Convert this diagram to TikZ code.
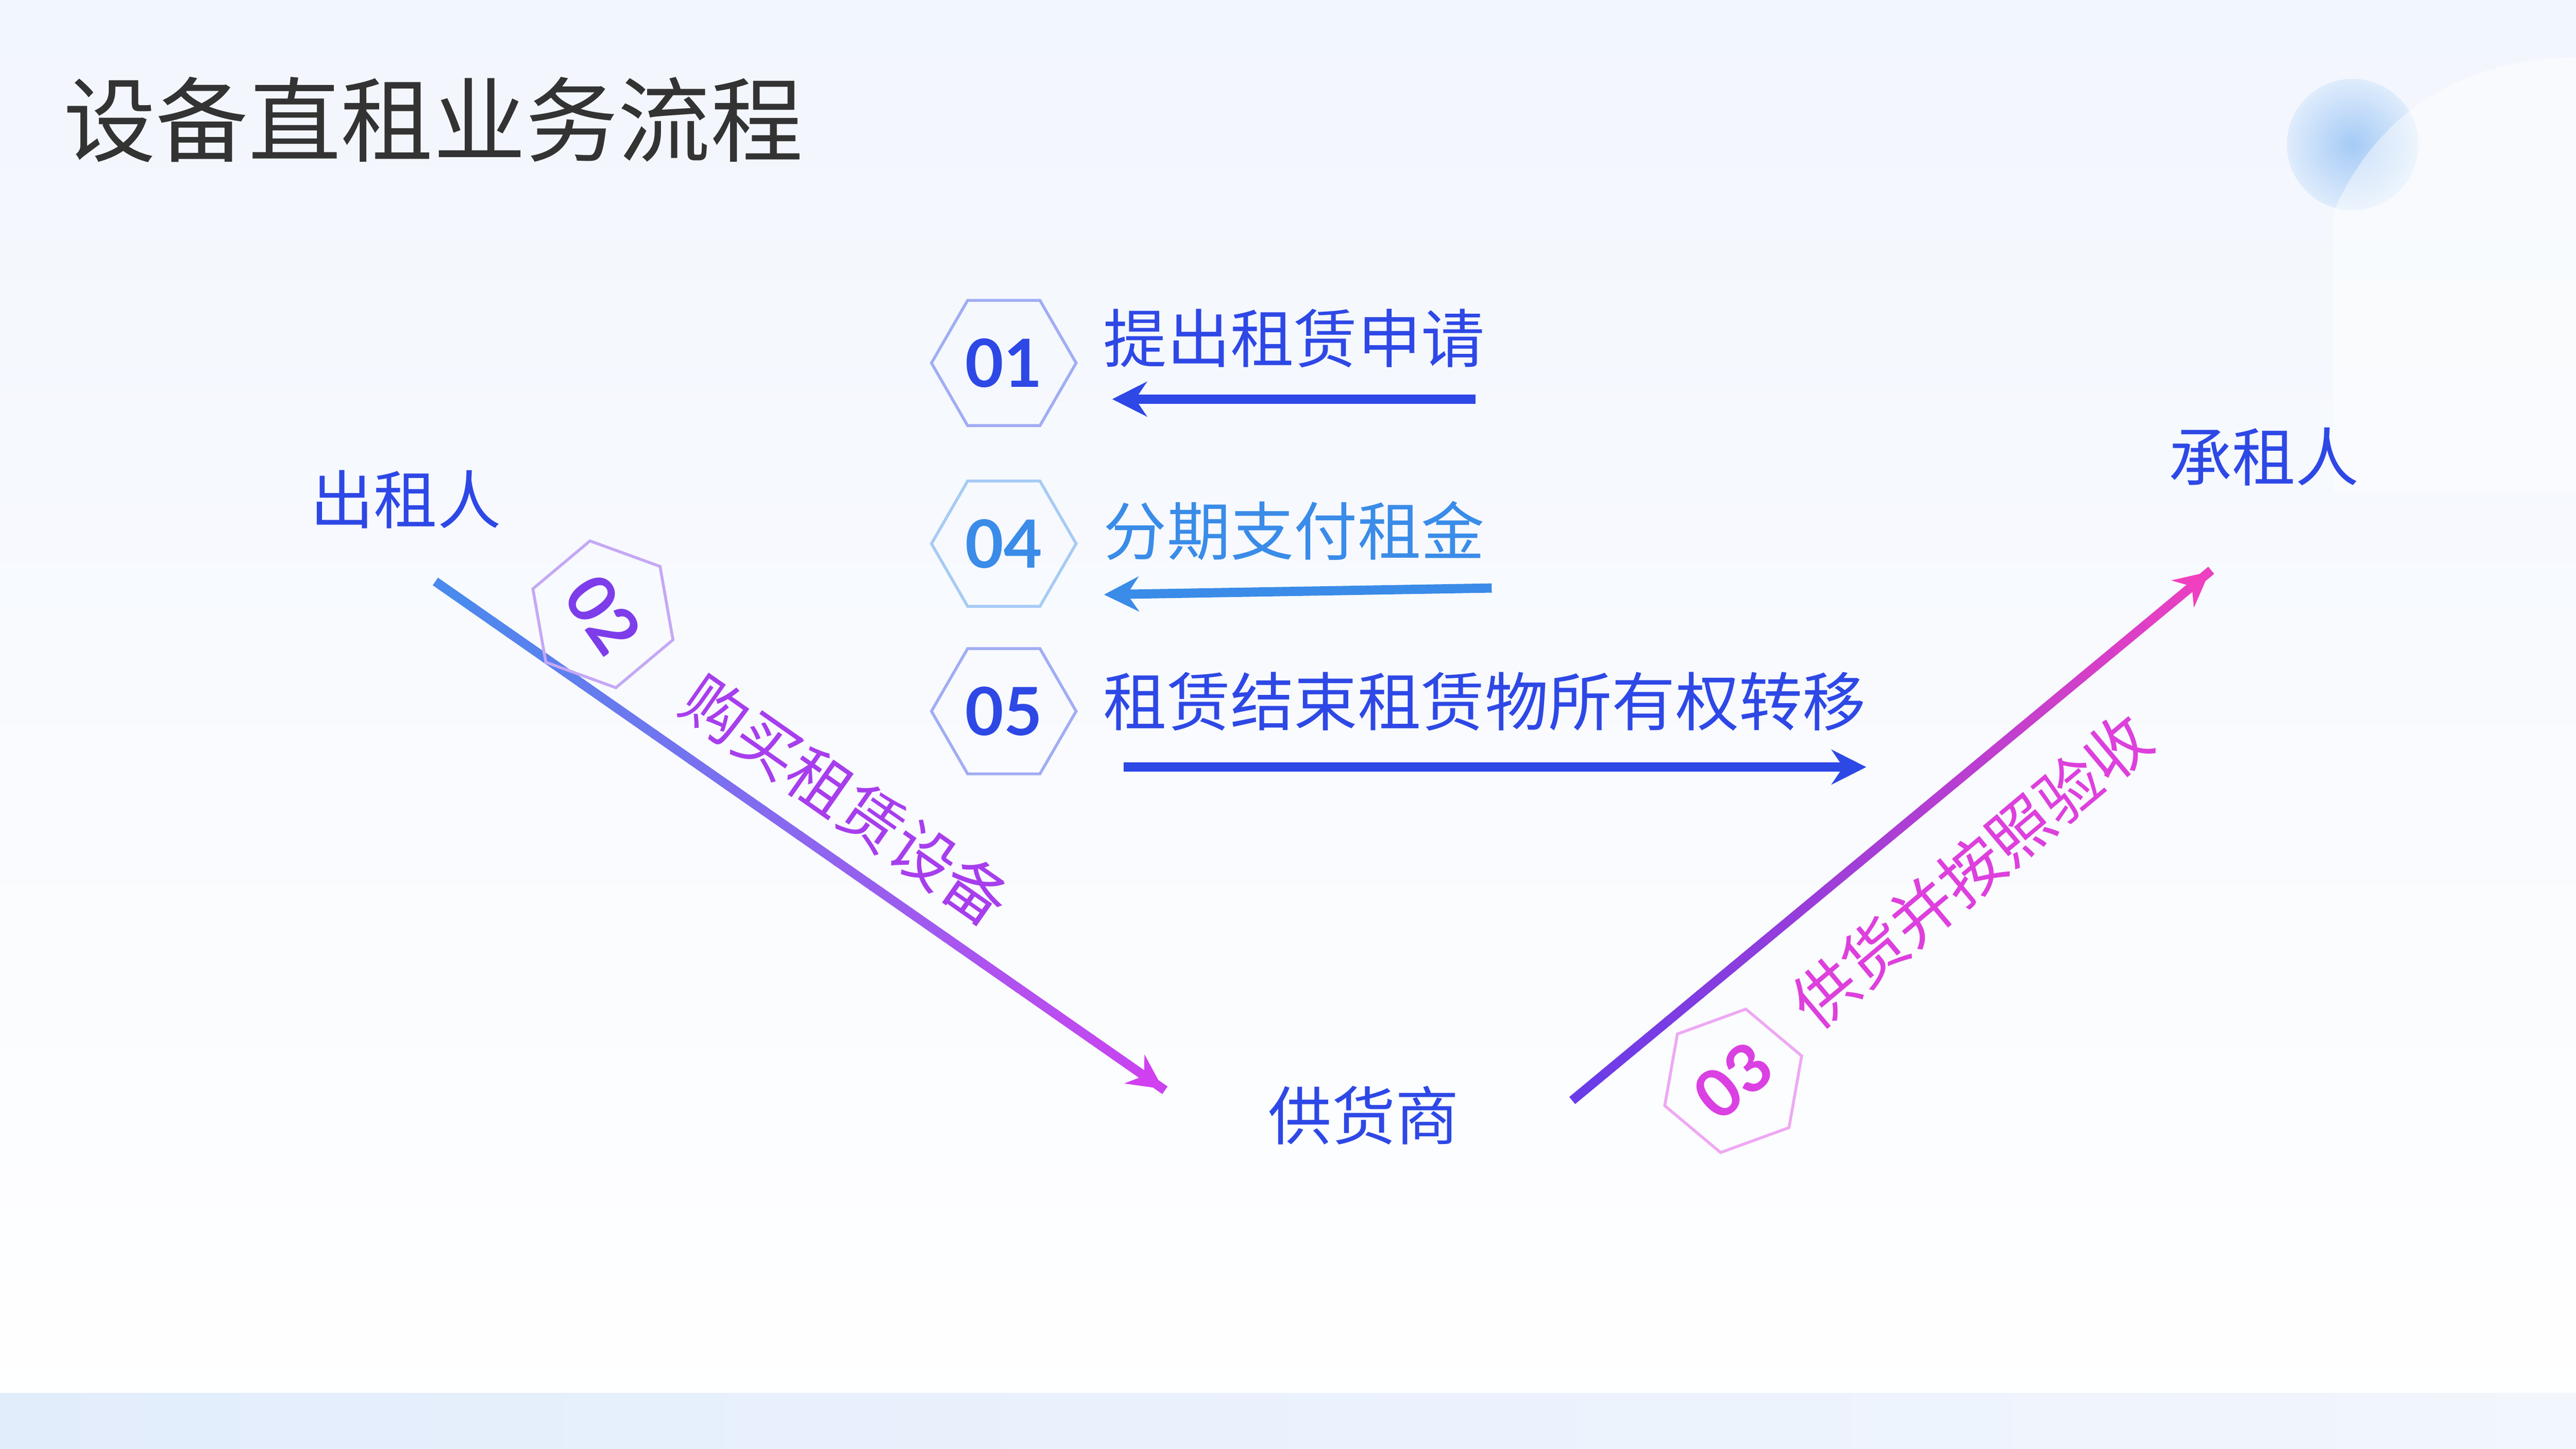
\documentclass[tikz,border=0pt]{standalone}
\usepackage{fontspec}
\setmainfont{Noto Sans CJK SC}
\newfontfamily\numf{Lato}
\usetikzlibrary{shapes.geometric,arrows.meta,calc}
\definecolor{tblue}{HTML}{2E48E6}
\definecolor{lblue}{HTML}{3A8CE8}
\definecolor{gA}{HTML}{4A8AEE}
\definecolor{gB}{HTML}{D040F0}
\definecolor{gC}{HTML}{6A3CE8}
\definecolor{gD}{HTML}{F040C0}
\definecolor{sky}{HTML}{7FB4F2}
\definecolor{bgb}{HTML}{E2EDFC}
\definecolor{bgl}{HTML}{F2F6FD}
\begin{document}
\begin{tikzpicture}[x=0.01cm,y=-0.01cm,
  lbl/.style={font=\fontsize{11pt}{12pt}\selectfont,text=tblue,inner sep=0},
  hexa/.style={regular polygon,regular polygon sides=6,minimum size=0.88cm,draw=#1!45,line width=0.5pt,font=\numf\bfseries\fontsize{11.5pt}{12pt}\selectfont,text=#1,inner sep=0},
  arr/.style={line width=1.6pt,-{Stealth[length=6pt,width=6pt,inset=2pt]}}]
\useasboundingbox (0,0) rectangle (1568,882);
\shade[top color=bgl,bottom color=white] (0,0) rectangle (1568,882);
\shade[left color=bgb,right color=bgl] (0,848) rectangle (1568,882);
\shade[inner color=sky!70,outer color=sky!25] (1432,88) circle (40);
\fill[white,opacity=0.45] (1420,130) .. controls (1450,60) and (1510,35) .. (1568,35) -- (1568,300) -- (1420,300) -- cycle;
\node[anchor=west,font=\fontsize{16pt}{18pt}\selectfont,text=black!80,inner sep=0] (title) at (38,73) {设备直租业务流程};
% parties
\node[lbl] (lessor) at (247,304) {出租人};
\node[lbl] (lessee) at (1378,278) {承租人};
\node[lbl] (supp) at (830,679) {供货商};
% steps
\node[hexa=tblue] (h1) at (611,221) {01};
\node[lbl,anchor=west] (t1) at (671,206) {提出租赁申请};
\node[hexa=lblue] (h4) at (611,331) {04};
\node[lbl,anchor=west,text=lblue] (t4) at (671,323) {分期支付租金};
\node[hexa=tblue] (h5) at (611,433) {05};
\node[lbl,anchor=west] (t5) at (671,427) {租赁结束租赁物所有权转移};
\coordinate (a1s) at (898,243); \coordinate (a1e) at (677,243);
\coordinate (a4s) at (908,358); \coordinate (a4e) at (672,362);
\coordinate (a5s) at (684,467); \coordinate (a5e) at (1136,467);
\draw[arr,tblue] (a1s) -- (a1e);
\draw[arr,lblue] (a4s) -- (a4e);
\draw[arr,tblue] (a5s) -- (a5e);
% diagonal 02
\coordinate (d2s) at (265,354); \coordinate (d2e) at (708,663);
\foreach \i in {0,...,19}{
  \pgfmathsetmacro\p{\i*5}
  \pgfmathsetmacro\q{(\i+1.05)/20}
  \draw[line width=1.6pt,color=gB!\p!gA] ($(d2s)!\i/20!(d2e)$) -- ($(d2s)!\q!(d2e)$);}
\draw[arr,gB] ($(d2s)!0.97!(d2e)$) -- (d2e);
\node[hexa=gC!80!gB,rotate=-20] (h2) at (367,374) {\rotatebox{-35}{02}};
\node[lbl,text=gC!40!gB,rotate=-35] (t2) at (515,487) {购买租赁设备};
% diagonal 03
\coordinate (d3s) at (957,670); \coordinate (d3e) at (1345,348);
\foreach \i in {0,...,19}{
  \pgfmathsetmacro\p{\i*5}
  \pgfmathsetmacro\q{(\i+1.05)/20}
  \draw[line width=1.6pt,color=gD!\p!gC] ($(d3s)!\i/20!(d3e)$) -- ($(d3s)!\q!(d3e)$);}
\draw[arr,gD] ($(d3s)!0.97!(d3e)$) -- (d3e);
\node[hexa=gB!70!gD,rotate=20] (h3) at (1055,658) {\rotatebox{20}{03}};
\node[lbl,text=gB!60!gD,rotate=40] (t3) at (1200,530) {供货并按照验收};
\end{tikzpicture}
\end{document}
